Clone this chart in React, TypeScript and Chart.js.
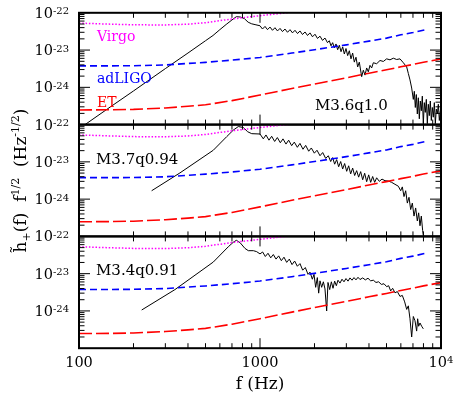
import React, { useEffect, useRef } from 'react';
import { Chart, registerables } from 'chart.js';

Chart.register(...registerables);

// ---------------- detector sensitivity curves (same in every panel) ----------------
const VIRGO_FREQ = [100, 150, 200, 300, 400, 500, 700, 1000, 1400, 2000];
const VIRGO_H = [5.27e-23, 4.96e-23, 4.76e-23, 4.72e-23, 4.96e-23, 5.43e-23, 6.83e-23, 8.35e-23, 1.0e-22, 1.3e-22];

const ADLIGO_FREQ = [100, 150, 200, 300, 400, 500, 700, 1000, 1500, 2000, 3000, 4000, 5000, 6000, 7000, 8200];
const ADLIGO_H = [
  3.77e-24, 3.77e-24, 3.8e-24, 3.98e-24, 4.37e-24, 4.68e-24, 5.37e-24, 6.34e-24,
  8.3e-24, 1.02e-23, 1.38e-23, 1.74e-23, 2.09e-23, 2.57e-23, 2.95e-23, 3.51e-23,
];

const ET_FREQ = [100, 150, 200, 300, 400, 500, 700, 1000, 1500, 2000, 3000, 4000, 5000, 6000, 7000, 8000, 10000];
const ET_H = [
  2.47e-25, 2.5e-25, 2.56e-25, 2.8e-25, 3.1e-25, 3.4e-25, 4.4e-25, 6.2e-25, 9.3e-25,
  1.23e-24, 1.8e-24, 2.4e-24, 2.95e-24, 3.55e-24, 4.1e-24, 4.7e-24, 5.75e-24,
];

// ---------------- model spectra ----------------
const M36_FREQ = [
  104, 150, 200, 300, 400, 500, 550, 600, 650, 700, 740, 780, 820, 860, 900, 950, 1000,
  1032, 1066, 1100, 1136, 1172, 1210, 1249, 1290, 1331, 1374, 1419, 1465, 1512, 1561, 1612, 1663, 1717,
  1773, 1830, 1889, 1950, 2013, 2078, 2145, 2215, 2286, 2360,
  2415, 2468, 2520, 2575, 2630, 2686, 2744, 2803, 2862, 2924, 2986, 3050, 3115, 3182, 3250, 3320, 3391,
  3464, 3537,
  3645, 3723, 3803, 3884, 3967, 4052, 4139, 4228, 4410, 4603, 4802, 5009, 5227, 5452, 5689, 5934, 6193,
  6462, 6599, 6741, 6886,
  7032, 7122, 7213, 7306, 7399, 7494, 7590, 7687, 7786, 7885, 7986, 8089, 8192, 8297, 8403, 8511, 8620,
  8730, 8842, 8956, 9070, 9187, 9304, 9424, 9544, 9666, 9790, 9915,
];
const M36_H = [
  8.8e-26, 3.05e-25, 7.99e-25, 3.18e-24, 8.33e-24, 1.78e-23, 2.46e-23, 3.53e-23, 4.86e-23, 6.43e-23,
  7.86e-23, 7.7e-23, 6.97e-23, 5.59e-23, 5.06e-23, 4.76e-23, 4.49e-23,
  3.67e-23, 4.31e-23, 3.53e-23, 4.14e-23, 3.39e-23, 3.98e-23, 3.26e-23, 3.82e-23, 3.13e-23, 3.67e-23,
  3.0e-23, 3.53e-23, 2.89e-23, 3.39e-23, 2.77e-23, 3.26e-23, 2.61e-23, 3.06e-23, 2.46e-23, 2.89e-23,
  2.27e-23, 2.66e-23, 2.05e-23, 2.36e-23, 1.82e-23, 2.1e-23, 1.58e-23,
  1.78e-23, 1.3e-23, 1.58e-23, 1.15e-23, 1.46e-23, 1.02e-23, 1.35e-23, 9.03e-24, 1.22e-23, 7.84e-24,
  1.1e-23, 7.1e-24, 9.59e-24, 5.81e-24, 8.33e-24, 4.75e-24, 6.42e-24, 3.52e-24, 4.75e-24,
  1.93e-24, 2.88e-24, 2.13e-24, 3.31e-24, 2.61e-24, 3.89e-24, 3.31e-24, 4.57e-24, 4.3e-24, 5.25e-24,
  4.95e-24, 5.81e-24, 5.47e-24, 6.05e-24, 5.58e-24, 5.81e-24, 4.57e-24, 3.52e-24, 2.36e-24, 1.58e-24,
  9.57e-25,
  4.75e-25, 7.83e-25, 2.88e-25, 6.41e-25, 1.93e-25, 5.25e-25, 1.43e-25, 4.29e-25, 2.35e-25, 5.8e-25,
  1.06e-25, 3.88e-25, 2.13e-25, 4.75e-25, 1.06e-25, 3.51e-25, 1.74e-25, 4.29e-25, 1.29e-25, 2.88e-25,
  1.58e-25, 3.88e-25, 1.06e-25, 2.6e-25, 1.93e-25, 3.51e-25, 1.29e-25, 2.35e-25,
];

const M37_FREQ = [
  252, 361, 552, 655, 712, 759, 809, 855, 900, 1000,
  1043, 1079, 1121, 1160, 1205, 1247, 1295, 1340, 1392, 1440, 1496, 1547, 1608, 1663, 1728, 1788, 1858,
  1921, 1996, 2065, 2145, 2220, 2306, 2385, 2458, 2520, 2585, 2652, 2720, 2791, 2862, 2935, 3012, 3089,
  3169, 3250, 3334, 3420, 3508, 3599, 3692, 3787, 3884, 3985, 4087, 4192, 4300, 4410, 4563, 4721, 4905,
  5117, 5339, 5570, 5812, 5988, 6114, 6246, 6380, 6516, 6656, 6799, 6944, 7093, 7245, 7399, 7525, 7655,
  7786, 7920, 7986,
];
const M37_H = [
  1.68e-24, 5.05e-24, 2.05e-23, 4.76e-23, 7.11e-23, 8.87e-23, 8.35e-23, 6.43e-23, 5.71e-23, 5.59e-23,
  4.14e-23, 5.27e-23, 3.82e-23, 4.86e-23, 3.53e-23, 4.49e-23, 3.26e-23, 4.14e-23, 3.0e-23, 3.82e-23,
  2.72e-23, 3.39e-23, 2.46e-23, 3.13e-23, 2.18e-23, 2.77e-23, 1.93e-23, 2.36e-23, 1.71e-23, 2.05e-23,
  1.46e-23, 1.78e-23, 1.24e-23, 1.46e-23, 1.02e-23, 1.3e-23, 8.67e-24, 1.15e-23, 7.39e-24, 1.02e-23,
  6.42e-24, 9.03e-24, 5.58e-24, 7.84e-24, 4.75e-24, 6.82e-24, 4.3e-24, 5.81e-24, 3.89e-24, 5.47e-24,
  3.31e-24, 4.95e-24, 2.94e-24, 4.48e-24, 2.82e-24, 4.05e-24, 2.82e-24, 3.74e-24, 3.0e-24, 3.45e-24,
  3.12e-24, 3.06e-24, 2.82e-24, 2.5e-24, 2.22e-24, 1.68e-24, 2.13e-24, 1.17e-24, 1.68e-24, 7.83e-25,
  1.12e-24, 5.25e-25, 7.83e-25, 3.51e-25, 5.8e-25, 2.6e-25, 4.29e-25, 1.93e-25, 3.51e-25, 1.43e-25,
  1.06e-25,
];

const M34_FREQ = [
  222, 339, 552, 668, 712, 740, 775, 826, 862, 919, 958, 1000,
  1034, 1070, 1107, 1146, 1185, 1226, 1268, 1312, 1357, 1404, 1452, 1503, 1554, 1608, 1663, 1721, 1780,
  1842, 1889, 1946, 1988, 2030, 2074, 2109, 2145, 2191, 2239, 2286, 2335, 2375, 2427, 2479, 2532, 2585,
  2641, 2697, 2767, 2838, 2911, 2986, 3064, 3142, 3224, 3306, 3391, 3479, 3568, 3692, 3820, 3951, 4087,
  4228, 4373, 4524, 4681, 4842, 5009, 5138, 5272, 5406, 5570, 5738, 5934, 6114, 6300, 6462, 6599, 6741,
  6886, 7032, 7183, 7336, 7430, 7525, 7655, 7819, 7986,
];
const M34_H = [
  1.06e-24, 3.74e-24, 2.05e-23, 5.27e-23, 6.97e-23, 7.86e-23, 6.84e-23, 4.76e-23, 4.14e-23, 4.14e-23,
  3.9e-23, 3.39e-23,
  3.82e-23, 2.89e-23, 3.53e-23, 2.66e-23, 3.26e-23, 2.46e-23, 3.0e-23, 2.23e-23, 2.77e-23, 2.01e-23,
  2.46e-23, 1.75e-23, 2.18e-23, 1.58e-23, 1.86e-23, 1.24e-23, 1.46e-23, 9.59e-24, 1.1e-23, 7.1e-24,
  9.59e-24, 4.3e-24, 7.84e-24, 3.0e-24, 6.42e-24, 4.3e-24, 6.05e-24, 3.89e-24, 9.96e-25, 5.81e-24,
  3.74e-24, 6.05e-24, 4.05e-24, 6.3e-24, 4.75e-24, 6.68e-24, 5.58e-24, 7.1e-24, 6.05e-24, 7.39e-24,
  6.3e-24, 7.69e-24, 6.68e-24, 7.84e-24, 6.82e-24, 8.0e-24, 6.96e-24, 7.69e-24, 6.82e-24, 7.54e-24,
  6.42e-24, 6.68e-24, 5.81e-24, 6.05e-24, 5.15e-24, 5.36e-24, 4.48e-24, 4.75e-24, 3.45e-24, 4.05e-24,
  3.06e-24, 3.31e-24, 2.45e-24, 2.61e-24, 1.75e-24, 1.1e-24, 1.37e-24, 6.16e-25, 2.0e-25, 7.09e-25,
  5.46e-25, 2.88e-25, 6.16e-25, 3.88e-25, 4.75e-25, 3.88e-25, 3.31e-25,
];

// ---------------- labels ----------------
const MODEL_LABELS = ['M3.6q1.0', 'M3.7q0.94', 'M3.4q0.91'];
const DETECTOR_LABELS = ['Virgo', 'adLIGO', 'ET'];
const Y_LABEL_EXPONENTS = [-22, -23, -24];
const X_LABELS = [
  { value: 100, base: '100', exp: '' },
  { value: 1000, base: '1000', exp: '' },
  { value: 10000, base: '10', exp: '4' },
];

// ---------------- axis ranges ----------------
const F_MIN = 100;
const F_MAX = 10000;
const H_MIN = 1.17e-25;
const H_MAX = 1e-22;

// ---------------- layout & style ----------------
const W = 455;
const H = 396;
const PLOT_LEFT = 79;
const PLOT_RIGHT = 441;
const PANEL_EDGES = [12.8, 124.6, 236.4, 348.2];
const SERIF = '"DejaVu Serif", "Liberation Serif", serif';
const MAGENTA = '#ff00ff';
const BLUE = '#0000ff';
const RED = '#ff0000';

const MODEL_LABEL_POS = [
  { x: 315, y: 110 },
  { x: 96, y: 163.5 },
  { x: 96, y: 274.5 },
];
const DETECTOR_LABEL_POS = [
  { x: 97, y: 40.5, color: MAGENTA },
  { x: 97, y: 83.3, color: BLUE },
  { x: 97, y: 107.3, color: RED },
];

type Part = { text: string; size: number; dy?: number };

function zip(fs: number[], hs: number[]) {
  const n = Math.min(fs.length, hs.length);
  const out: { x: number; y: number }[] = [];
  for (let i = 0; i < n; i++) out.push({ x: fs[i], y: hs[i] });
  return out;
}

function tickValues(lo: number, hi: number, fromExp: number, toExp: number) {
  const ticks: { value: number; major: boolean }[] = [];
  for (let e = fromExp; e <= toExp; e++) {
    for (let m = 1; m <= 9; m++) {
      const v = m * Math.pow(10, e);
      if (v >= lo * 0.999 && v <= hi * 1.001) ticks.push({ value: v, major: m === 1 });
    }
  }
  return ticks;
}

const X_TICKS = tickValues(F_MIN, F_MAX, 2, 4);
const Y_TICKS = tickValues(H_MIN, H_MAX, -25, -22);

function drawRich(
  ctx: CanvasRenderingContext2D,
  parts: Part[],
  x: number,
  y: number,
  align: 'left' | 'center' | 'right'
) {
  let total = 0;
  const widths = parts.map((p) => {
    ctx.font = `${p.size}px ${SERIF}`;
    const w = ctx.measureText(p.text).width;
    total += w;
    return w;
  });
  let cx = align === 'left' ? x : align === 'center' ? x - total / 2 : x - total;
  ctx.textAlign = 'left';
  ctx.textBaseline = 'alphabetic';
  parts.forEach((p, i) => {
    ctx.font = `${p.size}px ${SERIF}`;
    ctx.fillText(p.text, cx, y + (p.dy ?? 0));
    cx += widths[i];
  });
}

const MODELS = [
  { freq: M36_FREQ, h: M36_H },
  { freq: M37_FREQ, h: M37_H },
  { freq: M34_FREQ, h: M34_H },
];

function panelPlugin(index: number) {
  return {
    id: 'panelFrame' + index,
    afterDraw(chart: any) {
      const { ctx, chartArea: a } = chart;
      const xs = chart.scales.x;
      const ys = chart.scales.y;
      ctx.save();

      // inward ticks on all four sides
      ctx.strokeStyle = '#000';
      ctx.lineWidth = 1;
      ctx.beginPath();
      for (const t of X_TICKS) {
        const px = xs.getPixelForValue(t.value);
        const len = t.major ? 10 : 5;
        ctx.moveTo(px, a.top);
        ctx.lineTo(px, a.top + len);
        ctx.moveTo(px, a.bottom);
        ctx.lineTo(px, a.bottom - len);
      }
      for (const t of Y_TICKS) {
        const py = ys.getPixelForValue(t.value);
        const len = t.major ? 11 : 5.5;
        ctx.moveTo(a.left, py);
        ctx.lineTo(a.left + len, py);
        ctx.moveTo(a.right, py);
        ctx.lineTo(a.right - len, py);
      }
      ctx.stroke();

      // panel box
      ctx.lineWidth = 2;
      ctx.strokeRect(a.left, a.top, a.right - a.left, a.bottom - a.top);

      // y tick labels
      ctx.fillStyle = '#000';
      for (const e of Y_LABEL_EXPONENTS) {
        const py = ys.getPixelForValue(Math.pow(10, e));
        drawRich(
          ctx,
          [
            { text: '10', size: 14.5 },
            { text: '-' + Math.abs(e), size: 10, dy: -3.5 },
          ],
          69,
          py + 5,
          'right'
        );
      }

      // model name
      const mp = MODEL_LABEL_POS[index];
      ctx.font = `15px ${SERIF}`;
      ctx.textAlign = 'left';
      ctx.fillText(MODEL_LABELS[index], mp.x, mp.y);

      if (index === 0) {
        ctx.font = `14px ${SERIF}`;
        DETECTOR_LABELS.forEach((lab, i) => {
          const p = DETECTOR_LABEL_POS[i];
          ctx.fillStyle = p.color;
          ctx.fillText(lab, p.x, p.y);
        });
      }

      if (index === 2) {
        ctx.fillStyle = '#000';
        for (const l of X_LABELS) {
          const px = xs.getPixelForValue(l.value);
          const parts: Part[] = [{ text: l.base, size: 14.5 }];
          if (l.exp) parts.push({ text: l.exp, size: 10, dy: -4 });
          drawRich(ctx, parts, px, 367, 'center');
        }
        drawRich(ctx, [{ text: 'f (Hz)', size: 17 }], (PLOT_LEFT + PLOT_RIGHT) / 2, 389, 'center');

        // vertical axis title, spanning all panels
        ctx.save();
        ctx.translate(26, (PANEL_EDGES[0] + PANEL_EDGES[3]) / 2);
        ctx.rotate(-Math.PI / 2);
        drawRich(
          ctx,
          [
            { text: 'h\u0303', size: 17 },
            { text: '+', size: 11, dy: 4 },
            { text: '(f)  f', size: 17 },
            { text: '1/2', size: 11, dy: -7 },
            { text: '  (Hz', size: 17 },
            { text: '-1/2', size: 11, dy: -7 },
            { text: ')', size: 17 },
          ],
          0,
          0,
          'center'
        );
        ctx.restore();
      }

      ctx.restore();
    },
  };
}

function buildConfig(index: number): any {
  const model = MODELS[index];
  const top = PANEL_EDGES[index];
  const bottom = PANEL_EDGES[index + 1];
  return {
    type: 'line',
    data: {
      datasets: [
        {
          data: zip(VIRGO_FREQ, VIRGO_H),
          borderColor: MAGENTA,
          borderWidth: 1.5,
          borderDash: [1.5, 1.8],
        },
        {
          data: zip(ADLIGO_FREQ, ADLIGO_H),
          borderColor: BLUE,
          borderWidth: 1.6,
          borderDash: [7, 4],
        },
        {
          data: zip(ET_FREQ, ET_H),
          borderColor: RED,
          borderWidth: 1.6,
          borderDash: [13, 4],
        },
        {
          data: zip(model.freq, model.h),
          borderColor: '#000',
          borderWidth: 1,
        },
      ].map((d) => ({ ...d, fill: false, pointRadius: 0, tension: 0, clip: 0 })),
    },
    options: {
      responsive: false,
      animation: false,
      devicePixelRatio: 1,
      events: [],
      layout: {
        padding: {
          left: PLOT_LEFT,
          right: W - PLOT_RIGHT,
          top,
          bottom: H - bottom,
        },
      },
      plugins: {
        legend: { display: false },
        tooltip: { enabled: false },
        title: { display: false },
      },
      scales: {
        x: { type: 'logarithmic', min: F_MIN, max: F_MAX, display: false },
        y: { type: 'logarithmic', min: H_MIN, max: H_MAX, display: false },
      },
    },
    plugins: [panelPlugin(index)],
  };
}

export default function App() {
  const ref0 = useRef<HTMLCanvasElement>(null);
  const ref1 = useRef<HTMLCanvasElement>(null);
  const ref2 = useRef<HTMLCanvasElement>(null);

  useEffect(() => {
    const canvases = [ref0.current, ref1.current, ref2.current];
    const charts = canvases.map((c, i) => new Chart(c as HTMLCanvasElement, buildConfig(i)));
    return () => charts.forEach((c) => c.destroy());
  }, []);

  const canvasStyle: React.CSSProperties = {
    position: 'absolute',
    left: 0,
    top: 0,
    width: W,
    height: H,
  };

  return (
    <div style={{ position: 'absolute', left: 0, top: 0, width: W, height: H, background: '#fff' }}>
      <canvas ref={ref0} width={W} height={H} style={canvasStyle} />
      <canvas ref={ref1} width={W} height={H} style={canvasStyle} />
      <canvas ref={ref2} width={W} height={H} style={canvasStyle} />
    </div>
  );
}
